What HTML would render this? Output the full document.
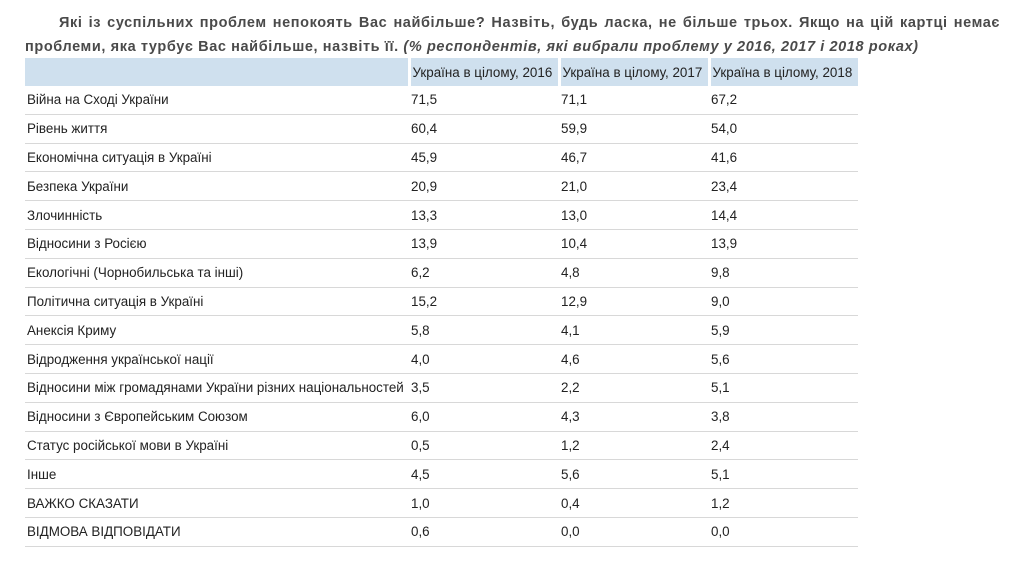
<!DOCTYPE html>
<html><head><meta charset="utf-8"><style>
body{margin:0;background:#fff;width:1022px;height:573px;overflow:hidden;font-family:"Liberation Sans",Arial,sans-serif;}
.t{position:absolute;left:25px;top:11px;width:975px;font-size:14.5px;font-weight:bold;color:#4a4a4a;line-height:24px;text-align:justify;text-align-last:left;text-indent:34px;letter-spacing:0.6px;}
.t i{font-style:italic;}
table{position:absolute;left:25px;top:58px;border-collapse:collapse;font-size:13.4px;color:#222;table-layout:fixed;width:833px;}
td{height:27.8px;padding:0 0 0 2px;border-bottom:1px solid #d8d8d8;vertical-align:middle;white-space:nowrap;overflow:hidden;}
tr.h td{background:#cfe0ee;border-bottom:none;height:28px;}
tr.h td+td{border-left:3px solid #fff;}
</style></head><body>
<div class="t">Які із суспільних проблем непокоять Вас найбільше? Назвіть, будь ласка, не більше трьох. Якщо на цій картці немає проблеми, яка турбує Вас найбільше, назвіть її. <i>(% респондентів, які вибрали проблему у 2016, 2017 і 2018 роках)</i></div>
<table>
<colgroup><col style="width:384px"><col style="width:150px"><col style="width:150px"><col style="width:149px"></colgroup>
<tr class="h"><td></td><td>Україна в цілому, 2016</td><td>Україна в цілому, 2017</td><td>Україна в цілому, 2018</td></tr>
<tr><td>Війна на Сході України</td><td>71,5</td><td>71,1</td><td>67,2</td></tr>
<tr><td>Рівень життя</td><td>60,4</td><td>59,9</td><td>54,0</td></tr>
<tr><td>Економічна ситуація в Україні</td><td>45,9</td><td>46,7</td><td>41,6</td></tr>
<tr><td>Безпека України</td><td>20,9</td><td>21,0</td><td>23,4</td></tr>
<tr><td>Злочинність</td><td>13,3</td><td>13,0</td><td>14,4</td></tr>
<tr><td>Відносини з Росією</td><td>13,9</td><td>10,4</td><td>13,9</td></tr>
<tr><td>Екологічні (Чорнобильська та інші)</td><td>6,2</td><td>4,8</td><td>9,8</td></tr>
<tr><td>Політична ситуація в Україні</td><td>15,2</td><td>12,9</td><td>9,0</td></tr>
<tr><td>Анексія Криму</td><td>5,8</td><td>4,1</td><td>5,9</td></tr>
<tr><td>Відродження української нації</td><td>4,0</td><td>4,6</td><td>5,6</td></tr>
<tr><td>Відносини між громадянами України різних національностей</td><td>3,5</td><td>2,2</td><td>5,1</td></tr>
<tr><td>Відносини з Європейським Союзом</td><td>6,0</td><td>4,3</td><td>3,8</td></tr>
<tr><td>Статус російської мови в Україні</td><td>0,5</td><td>1,2</td><td>2,4</td></tr>
<tr><td>Інше</td><td>4,5</td><td>5,6</td><td>5,1</td></tr>
<tr><td>ВАЖКО СКАЗАТИ</td><td>1,0</td><td>0,4</td><td>1,2</td></tr>
<tr><td>ВІДМОВА ВІДПОВІДАТИ</td><td>0,6</td><td>0,0</td><td>0,0</td></tr>
</table>
</body></html>
